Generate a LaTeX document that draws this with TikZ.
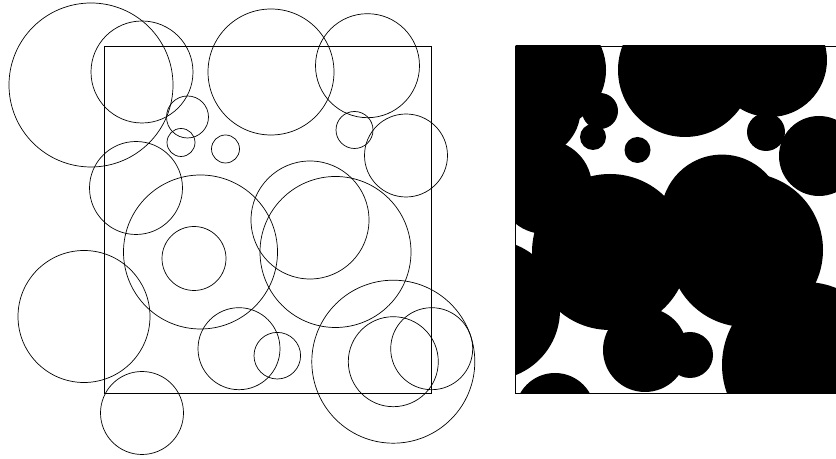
\documentclass[tikz,border=0pt]{standalone}
\usepackage{tikz}

\begin{document}
\begin{tikzpicture}[x=0.03cm,y=0.03cm,line width=0.6pt]
    \useasboundingbox (0,0) rectangle (836,459);
    \draw (104,65.3) rectangle (431.7,413);
    \draw (91,374) circle (82);
    \draw (142,387) circle (51);
    \draw (187.5,342) circle (21);
    \draw (181,316.5) circle (14);
    \draw (225.5,310) circle (14);
    \draw (136,271) circle (46.5);
    \draw (200.5,207) circle (77);
    \draw (194,200.5) circle (32);
    \draw (271,387) circle (63);
    \draw (367.5,393.3) circle (52);
    \draw (354.5,329) circle (18.5);
    \draw (406,303.5) circle (41.5);
    \draw (310,239) circle (59);
    \draw (335.5,207) circle (75.5);
    \draw (84,142.5) circle (66);
    \draw (142,46) circle (41.5);
    \draw (239,110.3) circle (41);
    \draw (277.3,103.3) circle (23.3);
    \draw (393.3,97.3) circle (81.5);
    \draw (393.3,97.3) circle (45);
    \draw (431.7,110.3) circle (41);
    \begin{scope}
        \clip (515.5,65.3) rectangle (843.2,413);
        \fill (685,389) circle (67);
        \fill (770,399) circle (57);
        \fill (766,327) circle (19);
        \fill (819,303) circle (40);
        \fill (637.5,309) circle (13);
        \fill (593,322) circle (13);
        \fill (600,348) circle (18);
        \fill (548,389) circle (58);
        \fill (533,349) circle (47.5);
        \fill (545,272) circle (47);
        \fill (610,207) circle (78);
        \fill (722,243.4) circle (61);
        \fill (746,209) circle (77);
        \fill (490,149) circle (70);
        \fill (645,109) circle (42);
        \fill (690,104) circle (23);
        \fill (805,94) circle (83);
        \fill (555,46) circle (40);
    \end{scope}
    \draw (515.5,65.3) rectangle (843.2,413);
\end{tikzpicture}
\end{document}
